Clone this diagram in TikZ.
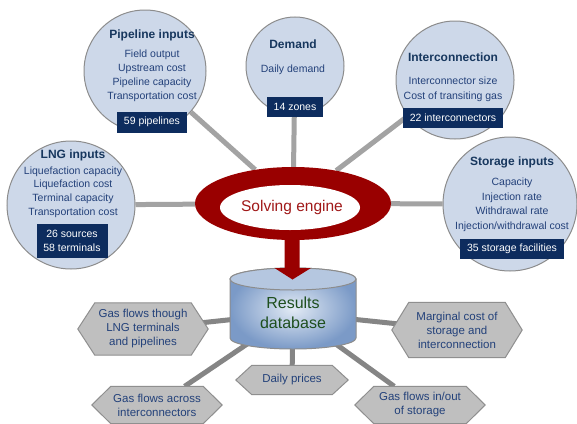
\documentclass[tikz,border=0pt]{standalone}
\usepackage{fontspec}
\setmainfont{Liberation Sans}
\usetikzlibrary{shapes.geometric,backgrounds}

\definecolor{bubblefill}{HTML}{CDD8E9}
\definecolor{bubbleline}{HTML}{8C8C8C}
\definecolor{navy}{HTML}{0D2C5E}
\definecolor{titlecol}{HTML}{17375E}
\definecolor{bodycol}{HTML}{23417A}
\definecolor{ringred}{HTML}{990000}
\definecolor{enginetext}{HTML}{A01818}
\definecolor{connup}{HTML}{A3A3A3}
\definecolor{conndown}{HTML}{858585}
\definecolor{hexfill}{HTML}{BFBFBF}
\definecolor{hexline}{HTML}{8F8F8F}
\definecolor{dbblue}{HTML}{7B9AC7}
\definecolor{dbhi}{HTML}{E3EBF5}
\definecolor{dbtop}{HTML}{B5C7E0}
\definecolor{dbgreen}{HTML}{1E4F1E}

\tikzset{
 bubble/.style={circle, draw=bubbleline, line width=1pt, fill=bubblefill, inner sep=0pt},
 ttl/.style={font=\fontsize{12}{14}\selectfont\bfseries, text=titlecol, inner sep=0pt},
 bodytxt/.style={font=\fontsize{10.5}{14}\selectfont, text=bodycol, align=center, inner sep=0pt},
 countbox/.style={fill=navy, text=white, font=\fontsize{10.5}{13.5}\selectfont, align=center, inner sep=0pt},
 connA/.style={draw=connup, line width=5pt},
 connB/.style={draw=conndown, line width=5pt},
 hextext/.style={font=\fontsize{11.5}{14}\selectfont, text=bodycol, align=center, inner sep=0pt},
 hexshape/.style={fill=hexfill, draw=hexline, line width=1pt},
}
\newcommand{\hexdraw}[2]{\path[hexshape] (#1.north west) -- (#1.north east) -- ([xshift=#2]#1.east) -- (#1.south east) -- (#1.south west) -- ([xshift=-#2]#1.west) -- cycle;}

\begin{document}
\begin{tikzpicture}[x=1pt,y=-1pt]
\useasboundingbox (0,0) rectangle (577,423);

% input bubbles
\node[bubble, minimum size=122pt] (pipe) at (145,71) {};
\node[bubble, minimum size=128pt] (lng) at (71,205) {};
\node[bubble, minimum size=98pt] (dem) at (295,66) {};
\node[bubble, minimum size=118pt] (inter) at (455,80) {};
\node[bubble, minimum size=134pt] (stor) at (510,204) {};

% pipeline
\node[ttl] (pipeT) at (152,35) {Pipeline inputs};
\node[bodytxt] (pipeB) at (152,76) {Field output\\Upstream cost\\Pipeline capacity\\Transportation cost};
\node[countbox, minimum width=70pt, minimum height=21pt] (pipeN) at (152,122) {59 pipelines};

% LNG
\node[ttl] (lngT) at (73,155) {LNG inputs};
\node[bodytxt, font=\fontsize{10.5}{13.7}\selectfont] (lngB) at (73,192) {Liquefaction capacity\\Liquefaction cost\\Terminal capacity\\Transportation cost};
\node[countbox, minimum width=71pt, minimum height=34pt] (lngN) at (72,241) {26 sources\\58 terminals};

% demand
\node[ttl] (demT) at (293,44) {Demand};
\node[bodytxt] (demB) at (293,70) {Daily demand};
\node[countbox, minimum width=56pt, minimum height=20pt] (demN) at (295,107) {14 zones};

% interconnection
\node[ttl] (interT) at (453,57) {Interconnection};
\node[bodytxt, font=\fontsize{10.5}{15}\selectfont] (interB) at (453,89.5) {Interconnector size\\Cost of transiting gas};
\node[countbox, minimum width=100pt, minimum height=20pt] (interN) at (453,118) {22 interconnectors};

% storage
\node[ttl] (storT) at (512,162) {Storage inputs};
\node[bodytxt, font=\fontsize{10.5}{14.5}\selectfont] (storB) at (512,205) {Capacity\\Injection rate\\Withdrawal rate\\Injection/withdrawal cost};
\node[countbox, minimum width=104pt, minimum height=20pt] (storN) at (512,249) {35 storage facilities};

% solving engine ring
\node[ellipse, fill=ringred, minimum width=196pt, minimum height=73pt, inner sep=0pt] (engine) at (293,203.5) {};
\fill[white] (290,207.5) ellipse [x radius=70pt, y radius=22.5pt];
\node[font=\fontsize{15.5}{18}\selectfont, text=enginetext, inner sep=0pt] (engT) at (292,207) {Solving engine};

% results database cylinder
\shadedraw[inner color=dbhi, outer color=dbblue, draw=bubbleline, line width=1pt]
  (230,279) -- (230,338) arc[start angle=180,end angle=360,x radius=63pt,y radius=11pt]
  -- (356,279) arc[start angle=0,end angle=180,x radius=63pt,y radius=11pt] -- cycle;
\filldraw[fill=dbtop, draw=bubbleline, line width=1pt] (293,279) ellipse [x radius=63pt, y radius=11pt];

% arrow
\fill[ringred] (284.5,234) -- (299.5,234) -- (299.5,268) -- (311,268) -- (292.5,279.5) -- (274.5,268) -- (284.5,268) -- cycle;

\node[font=\fontsize{16}{20}\selectfont, text=dbgreen, align=center, inner sep=0pt] (db) at (293,313) {Results\\database};

% outputs
\node[hextext, minimum width=96pt, minimum height=52pt] (h1) at (143,329) {Gas flows though\\LNG terminals\\and pipelines};
\node[hextext, minimum width=96pt, minimum height=55pt] (h2) at (457,330) {Marginal cost of\\storage and\\interconnection};
\node[hextext, minimum width=80pt, minimum height=29pt] (h3) at (292,380) {Daily prices};
\node[hextext, minimum width=92pt, minimum height=37pt] (h4) at (157,405) {Gas flows across\\interconnectors};
\node[hextext, minimum width=92pt, minimum height=37pt] (h5) at (420,405) {Gas flows in/out\\of storage};

\begin{pgfonlayer}{background}
\fill[white] (0,0) rectangle (577,423);
\draw[connA] (pipe) -- (engine);
\draw[connA] (lng) -- (engine);
\draw[connA] (dem) -- (engine);
\draw[connA] (inter) -- (engine);
\draw[connA] (stor) -- (engine);
\draw[connB] (db) -- (h1);
\draw[connB] (db) -- (h2);
\draw[connB] (db) -- (h3);
\draw[connB] (db) -- (h4);
\draw[connB] (db) -- (h5);
\hexdraw{h1}{17pt}
\hexdraw{h2}{17pt}
\hexdraw{h3}{16pt}
\hexdraw{h4}{19pt}
\hexdraw{h5}{19pt}
\end{pgfonlayer}
\end{tikzpicture}
\end{document}
